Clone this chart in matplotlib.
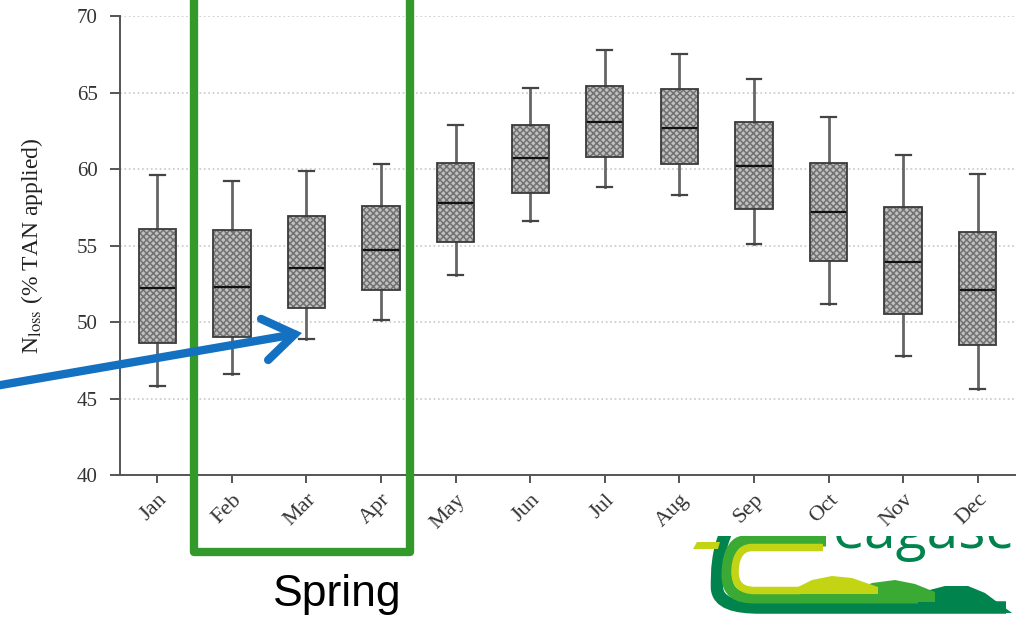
import matplotlib
matplotlib.use("Agg")
import matplotlib.pyplot as plt
from matplotlib.patches import Rectangle, PathPatch, Polygon
from matplotlib.path import Path
from matplotlib.transforms import Bbox, TransformedBbox

# monthly N loss distributions (% TAN applied)
months = ['Jan', 'Feb', 'Mar', 'Apr', 'May', 'Jun',
          'Jul', 'Aug', 'Sep', 'Oct', 'Nov', 'Dec']
whis_lo = [45.8, 46.6, 48.9, 50.1, 53.1, 56.6, 58.8, 58.3, 55.1, 51.2, 47.8, 45.6]
q1 = [48.6, 49.0, 50.9, 52.1, 55.2, 58.4, 60.8, 60.3, 57.4, 54.0, 50.5, 48.5]
med = [52.2, 52.3, 53.5, 54.7, 57.8, 60.7, 63.1, 62.7, 60.2, 57.2, 53.9, 52.1]
q3 = [56.1, 56.0, 56.9, 57.6, 60.4, 62.9, 65.4, 65.2, 63.1, 60.4, 57.5, 55.9]
whis_hi = [59.6, 59.2, 59.9, 60.3, 62.9, 65.3, 67.8, 67.5, 65.9, 63.4, 60.9, 59.7]

yticks = [40, 45, 50, 55, 60, 65, 70]

plt.rcParams['hatch.linewidth'] = 1.1
plt.rcParams['mathtext.fontset'] = 'stix'

fig = plt.figure(figsize=(10.19, 6.2), dpi=100)
ax = fig.add_axes([120 / 1019, 145 / 620, 895 / 1019, 459 / 620])

stats = []
for i, m in enumerate(months):
    stats.append(dict(label=m, whislo=whis_lo[i], q1=q1[i], med=med[i],
                      q3=q3[i], whishi=whis_hi[i], fliers=[]))

bp = ax.bxp(stats, positions=range(1, 13), widths=0.5, patch_artist=True,
            showfliers=False,
            boxprops=dict(facecolor='#c0c0c0', edgecolor='#727272', hatch='xxxxx', linewidth=0),
            whiskerprops=dict(color='#666666', linewidth=2),
            capprops=dict(color='#444444', linewidth=1.6),
            capwidths=0.2,
            medianprops=dict(color='#111111', linewidth=1.6))
# dark outline on top of the hatched fill
for b in bp['boxes']:
    ax.add_patch(PathPatch(b.get_path(), fill=False, edgecolor='#3a3a3a',
                           linewidth=1.3, zorder=2.5))

ax.set_xlim(0.5, 12.5)
ax.set_ylim(40, 70)
ax.set_yticks(yticks)
ax.set_yticklabels([str(v) for v in yticks], family='Liberation Serif', fontsize=15, color='#333333')
ax.set_xticks(range(1, 13))
ax.set_xticklabels(months, family='Liberation Serif', fontsize=16, color='#333333',
                   rotation=45, ha='right', va='top', rotation_mode='anchor')
ax.tick_params(axis='y', length=7, width=1.4, color='#555555', pad=9)
ax.tick_params(axis='x', length=6, width=1.4, color='#555555', pad=5)
for s in ['top', 'right']:
    ax.spines[s].set_visible(False)
for s in ['left', 'bottom']:
    ax.spines[s].set_color('#555555')
    ax.spines[s].set_linewidth(1.4)
ax.yaxis.grid(True, linestyle=':', color='#c8c8c8', linewidth=1.2)
ax.set_axisbelow(True)
ax.set_ylabel(r'N$_{\mathrm{loss}}$ (% TAN applied)', family='Liberation Serif',
              fontsize=17, color='#222222', labelpad=23)

# overlay in pixel coordinates for the annotations
ov = fig.add_axes([0, 0, 1, 1])
ov.set_xlim(0, 1019)
ov.set_ylim(620, 0)
ov.axis('off')
ov.patch.set_alpha(0)

ov.add_patch(Rectangle((194, -20), 216, 572, fill=False, edgecolor='#34992b',
                       linewidth=6, joinstyle='round'))
ov.text(337, 606, 'Spring', family='Liberation Sans', fontsize=32,
        ha='center', va='baseline', color='black')
ov.annotate('', xy=(302, 333), xytext=(-5, 386),
            arrowprops=dict(arrowstyle='->,head_length=1.1,head_width=0.75',
                            color='#1470c0', lw=6, shrinkA=0, shrinkB=0,
                            mutation_scale=20, joinstyle='miter'))

# logo (bottom right, cut off at the top)
clipbox = TransformedBbox(Bbox([[680, 536], [1019, 620]]), ov.transData)
dark, mid, yel = '#00834d', '#3aaa35', '#c3d414'
C = Path.CURVE4
shapes = []
bands = [
    ([(727, 530), (717, 552), (717, 572), (717, 588), (718, 603), (735, 607.5),
      (760, 607.5), (1006, 607.5)], dark, 12.5),
    ([(826, 541), (745, 541), (731, 541), (727, 560), (727, 575), (727, 592),
      (736, 598), (755, 598), (935, 598)], mid, 11),
    ([(823, 547.5), (752, 547.5), (739, 547.5), (735, 560), (735, 572), (735, 585),
      (742, 590.5), (755, 590.5), (800, 590.5)], yel, 7.5),
]
for verts, col, lw_px in bands:
    if len(verts) == 9:
        codes = [Path.MOVETO, Path.LINETO, C, C, C, C, C, C, Path.LINETO]
    else:
        codes = [Path.MOVETO, C, C, C, C, C, C, Path.LINETO]
    shapes.append(ov.add_patch(PathPatch(Path(verts, codes), fill=False, edgecolor=col,
                                         linewidth=lw_px * 0.72, capstyle='butt')))
shapes.append(ov.add_patch(Polygon([(918, 593), (945, 586), (968, 586), (985, 593),
                                    (1012, 613), (918, 613)], color=dark, lw=0)))
shapes.append(ov.add_patch(Polygon([(852, 592), (872, 583), (895, 580), (915, 584),
                                    (935, 592), (935, 602), (852, 602)], color=mid, lw=0)))
shapes.append(ov.add_patch(Polygon([(792, 590), (812, 580), (832, 576), (852, 578),
                                    (878, 587), (878, 594), (792, 594)], color=yel, lw=0)))
shapes.append(ov.add_patch(Polygon([(697, 542), (720, 542), (718, 549), (693, 549)],
                                   color=yel, lw=0)))
shapes.append(ov.text(833, 548, 'eagasc', family='Open Sans', fontsize=41, color=dark,
                      ha='left', va='baseline'))
for s in shapes:
    s.set_clip_box(clipbox)
    s.set_clip_on(True)

fig.savefig('out.png', dpi=100)
